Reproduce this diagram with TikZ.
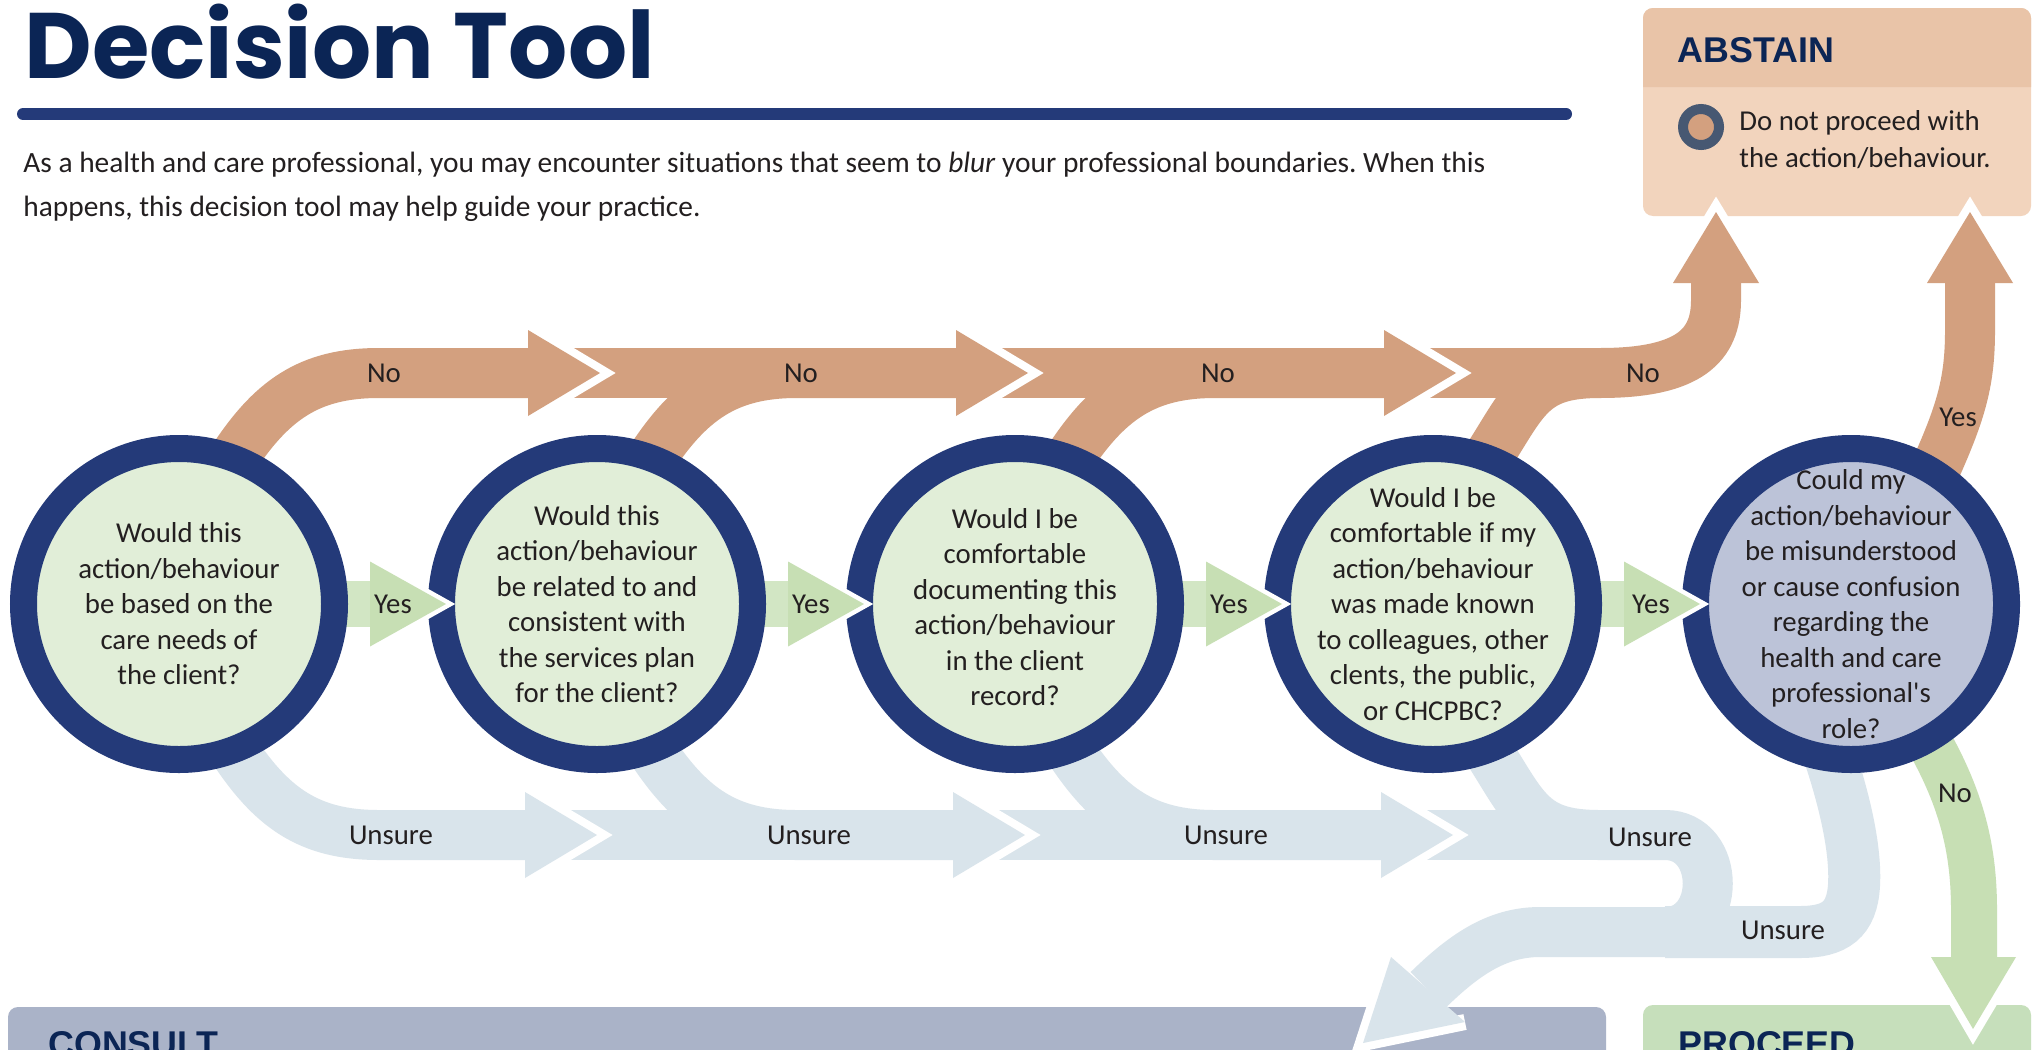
\documentclass[tikz,border=0pt]{standalone}
\usepackage{fontspec}
\setmainfont{Carlito}
\newfontfamily\headfont{Liberation Sans}
\newfontfamily\titlefont{Poppins}
\frenchspacing

\definecolor{navy}{HTML}{243A79}
\definecolor{ink}{HTML}{0B2555}
\definecolor{tan}{HTML}{D3A07F}
\definecolor{mist}{HTML}{D9E4EB}
\definecolor{leaf}{HTML}{C7DFB4}
\definecolor{leafpale}{HTML}{D2E6C4}
\definecolor{qgreen}{HTML}{E1EED8}
\definecolor{qlav}{HTML}{BCC3D8}
\definecolor{abhead}{HTML}{E9C4A8}
\definecolor{abbody}{HTML}{F2D4BD}
\definecolor{consultc}{HTML}{AAB3C8}
\definecolor{proceedc}{HTML}{C6DFBB}
\definecolor{slate}{HTML}{475872}
\definecolor{textc}{HTML}{231F20}

% arrow head of a wide band: white rim on the two front sides, then the fill
\newcommand\bandtip[5]{%
  \draw[white, line width=#2, line join=miter] #3 -- #4 -- #5;
  \fill[#1] #3 -- #4 -- #5 -- cycle;}

\tikzset{
  band/.style={line width=25pt, line cap=butt},
  qring/.style={circle, draw=navy, line width=13.5pt, minimum size=155.5pt, inner sep=0pt},
  qtext/.style={align=center, inner sep=0pt, text=textc, font=\fontsize{14.4}{17.75}\selectfont},
  lbl/.style={inner sep=0pt, text=textc, font=\fontsize{14.4}{17}\selectfont},
  para/.style={inner sep=0pt, text=textc, font=\fontsize{14.7}{17}\selectfont},
  boxtxt/.style={inner sep=0pt, text=textc, font=\fontsize{14.4}{17}\selectfont},
  headtxt/.style={inner sep=0pt, text=ink, font=\headfont\bfseries\fontsize{17.9}{20}\selectfont},
  titletxt/.style={inner sep=0pt, text=ink, font=\titlefont\bfseries\fontsize{46.5}{50}\selectfont},
}

\begin{document}
\begin{tikzpicture}[x=0.5pt, y=-0.5pt]
\useasboundingbox (0,0) rectangle (2032,1049);
\fill[white] (0,0) rectangle (2032,1049);

% ---------- heading ----------
\node[titletxt, anchor=base west] (title) at (24,78) {Decision Tool};
\coordinate (ruleL) at (23,114);
\coordinate (ruleR) at (1566,114);
\draw[navy, line width=6pt, line cap=round] (ruleL) -- (ruleR);
\node[para, anchor=base west] (p1) at (23,172) {As a health and care professional, you may encounter situations that seem to \textit{blur} your professional boundaries. When this};
\node[para, anchor=base west] (p2) at (23,216) {happens, this decision tool may help guide your practice.};

% ---------- outcome boxes ----------
\fill[abbody, rounded corners=5pt] (1643,8) rectangle (2031,216);
\fill[abhead] (1643,87) [rounded corners=5pt] -- (1643,8) -- (2031,8) [sharp corners] -- (2031,87) -- cycle;
\node[headtxt, anchor=base west] (abstain) at (1677,62) {ABSTAIN};
\node[circle, fill=tan, draw=slate, line width=5pt, minimum size=18pt, inner sep=0pt] (bullet) at (1701,127) {};
\node[boxtxt, anchor=base west] (ab1) at (1739,130) {Do not proceed with};
\node[boxtxt, anchor=base west] (ab2) at (1739,167) {the action/behaviour.};

\fill[consultc, rounded corners=5pt] (8,1007) rectangle (1606,1130);
\node[headtxt, anchor=base west] (consult) at (48,1056) {CONSULT};
\fill[proceedc, rounded corners=5pt] (1643,1005) rectangle (2031,1130);
\node[headtxt, anchor=base west] (proceed) at (1678,1056) {PROCEED};

% ---------- question circles (positions) ----------
\coordinate (c1) at (179,604);
\coordinate (c2) at (597,604);
\coordinate (c3) at (1015,604);
\coordinate (c4) at (1433,604);
\coordinate (c5) at (1851,604);

% head base centres
\coordinate (nb1) at (528,373);
\coordinate (nb2) at (956,373);
\coordinate (nb3) at (1384,373);
\coordinate (ub1) at (525,835);
\coordinate (ub2) at (953,835);
\coordinate (ub3) at (1381,835);
\coordinate (ab) at (1716,283);
\coordinate (ya) at (1970,283);
\coordinate (pb) at (1974,957);
\coordinate (cb) at (1428,990);
\coordinate (nturn) at (1600,373);
\coordinate (uturn) at (1665,835);
\coordinate (ulow) at (1665,932);

% ---------- Unsure bands ----------
\draw[band, mist] ([shift={(52,142)}]c1) .. controls +(40,62) and +(-70,0) .. ([shift={(200,231)}]c1) -- (ub1);
\draw[band, mist] ([shift={(25,0)}]ub1) -- ([shift={(200,231)}]c2);
\draw[band, mist] ([shift={(52,142)}]c2) .. controls +(40,62) and +(-70,0) .. ([shift={(200,231)}]c2) -- (ub2);
\draw[band, mist] ([shift={(25,0)}]ub2) -- ([shift={(200,231)}]c3);
\draw[band, mist] ([shift={(52,142)}]c3) .. controls +(40,62) and +(-70,0) .. ([shift={(200,231)}]c3) -- (ub3);
\draw[band, mist] ([shift={(25,0)}]ub3) -- (uturn);
\draw[band, mist] ([shift={(52,142)}]c4) .. controls +(40,62) and +(-70,0) .. ([shift={(167,231)}]c4) -- (uturn)
  .. controls (1722,835) and (1722,932) .. (ulow) -- (1540,932)
  .. controls (1495,932) and (1462,957) .. (cb);
\draw[band, mist, line width=26pt] ([shift={(-25,141)}]c5) .. controls (1845,800) and (1856,850) .. (1854,885)
  .. controls (1852,920) and (1835,932) .. (1800,932) -- (ulow);

% ---------- No bands ----------
\draw[band, tan] ([shift={(52,-142)}]c1) .. controls +(40,-62) and +(-70,0) .. ([shift={(200,-231)}]c1) -- (nb1);
\draw[band, tan] ([shift={(25,0)}]nb1) -- ([shift={(200,-231)}]c2);
\draw[band, tan] ([shift={(52,-142)}]c2) .. controls +(40,-62) and +(-70,0) .. ([shift={(200,-231)}]c2) -- (nb2);
\draw[band, tan] ([shift={(25,0)}]nb2) -- ([shift={(200,-231)}]c3);
\draw[band, tan] ([shift={(52,-142)}]c3) .. controls +(40,-62) and +(-70,0) .. ([shift={(200,-231)}]c3) -- (nb3);
\draw[band, tan] ([shift={(25,0)}]nb3) -- (nturn);
\draw[band, tan] ([shift={(52,-142)}]c4) .. controls +(40,-62) and +(-70,0) .. (nturn)
  .. controls (1690,373) and (1716,345) .. (1716,300) -- (ab);

% Yes band up to ABSTAIN, No band down to PROCEED
\draw[band, tan] ([shift={(84,-134)}]c5) .. controls (1962,410) and (1970,380) .. (1970,330) -- (ya);
\draw[band, leaf, line width=23pt] ([shift={(77,136)}]c5) .. controls (1962,800) and (1974,850) .. (1974,910) -- (pb);

% Yes shafts between circles
\foreach \c in {c1,c2,c3,c4}{
  \fill[leafpale] ([shift={(150,-23)}]\c) rectangle ([shift={(193,23)}]\c);
}

% ---------- circles ----------
\node[qring, fill=qgreen] (q1) at (c1) {};
\node[qring, fill=qgreen] (q2) at (c2) {};
\node[qring, fill=qgreen] (q3) at (c3) {};
\node[qring, fill=qgreen] (q4) at (c4) {};
\node[qring, fill=qlav] (q5) at (c5) {};

% ---------- arrow heads ----------
\foreach \b in {nb1,nb2,nb3}{
  \bandtip{tan}{8pt}{([shift={(0,-43)}]\b)}{([shift={(72,0)}]\b)}{([shift={(0,43)}]\b)}
}
\foreach \b in {ub1,ub2,ub3}{
  \bandtip{mist}{8pt}{([shift={(0,-43)}]\b)}{([shift={(72,0)}]\b)}{([shift={(0,43)}]\b)}
}
\foreach \c in {q1,q2,q3,q4}{
  \bandtip{leaf}{4.5pt}{([shift={(191,-42.5)}]\c.center)}{([shift={(267,0)}]\c.center)}{([shift={(191,42.5)}]\c.center)}
}
\bandtip{tan}{8pt}{([shift={(-43,0)}]ab)}{([shift={(0,-71)}]ab)}{([shift={(43,0)}]ab)}
\bandtip{tan}{8pt}{([shift={(-43,0)}]ya)}{([shift={(0,-71)}]ya)}{([shift={(43,0)}]ya)}
\bandtip{leaf}{8pt}{([shift={(-43,0)}]pb)}{([shift={(-1,72)}]pb)}{([shift={(42,0)}]pb)}
\bandtip{mist}{8pt}{([shift={(-37,-33)}]cb)}{([shift={(-65,53)}]cb)}{([shift={(37,32)}]cb)}

% ---------- question texts ----------
\node[qtext] (t1) at (q1) {Would this\\action/behaviour\\be based on the\\care needs of\\the client?};
\node[qtext] (t2) at (q2) {Would this\\action/behaviour\\be related to and\\consistent with\\the services plan\\for the client?};
\node[qtext] (t3) at ([shift={(0,3)}]q3.center) {Would I be\\comfortable\\documenting this\\action/behaviour\\in the client\\record?};
\node[qtext] (t4) at (q4) {Would I be\\comfortable if my\\action/behaviour\\was made known\\to colleagues, other\\clents, the public,\\or CHCPBC?};
\node[qtext] (t5) at (q5) {Could my\\action/behaviour\\be misunderstood\\or cause confusion\\regarding the\\health and care\\professional\textquotesingle s\\role?};

% ---------- branch labels ----------
\node[lbl] (no1) at (384,373) {No};
\node[lbl] (no2) at (801,373) {No};
\node[lbl] (no3) at (1218,373) {No};
\node[lbl] (no4) at (1643,373) {No};
\node[lbl] (yes1) at (393,604) {Yes};
\node[lbl] (yes2) at (811,604) {Yes};
\node[lbl] (yes3) at (1229,604) {Yes};
\node[lbl] (yes4) at (1651,604) {Yes};
\node[lbl] (un1) at (391,835) {Unsure};
\node[lbl] (un2) at (809,835) {Unsure};
\node[lbl] (un3) at (1226,835) {Unsure};
\node[lbl] (un4) at (1650,837) {Unsure};
\node[lbl] (un5) at (1783,930) {Unsure};
\node[lbl] (yes5) at (1958,417) {Yes};
\node[lbl] (no5) at (1955,793) {No};
\end{tikzpicture}
\end{document}
